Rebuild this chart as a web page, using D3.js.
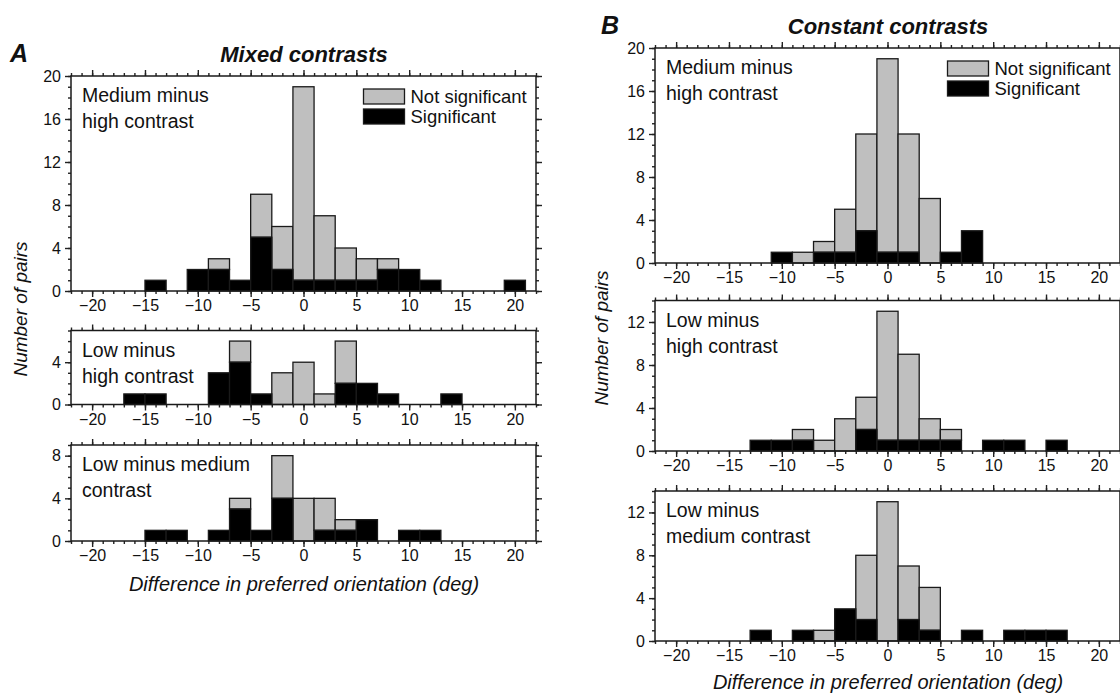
<!DOCTYPE html>
<html lang="en">
<head>
<meta charset="UTF-8">
<style>
  body { margin: 0; background: #fff; }
  svg { display: block; }
  text { font-family: Arial, "Liberation Sans", Helvetica, sans-serif; fill: #111; }
  .domain { display: none; }
  .tick line { stroke: #222; stroke-width: 1.4; }
</style>
<script src="https://d3js.org/d3.v7.min.js"></script>
</head>
<body>
<svg width="1120" height="697"></svg>
<script>
// bin centres (deg), bins are 2 deg wide
var bins = [-20, -18, -16, -14, -12, -10, -8, -6, -4, -2, 0, 2, 4, 6, 8, 10, 12, 14, 16, 18, 20];

// Mixed contrasts
var mixMedHighTotal = [0, 0, 0, 1, 0, 2, 3, 1, 9, 6, 19, 7, 4, 3, 3, 2, 1, 0, 0, 0, 1];
var mixMedHighSig   = [0, 0, 0, 1, 0, 2, 2, 1, 5, 2, 1, 1, 1, 1, 2, 2, 1, 0, 0, 0, 1];
var mixLowHighTotal = [0, 0, 1, 1, 0, 0, 3, 6, 1, 3, 4, 1, 6, 2, 1, 0, 0, 1, 0, 0, 0];
var mixLowHighSig   = [0, 0, 1, 1, 0, 0, 3, 4, 1, 0, 0, 0, 2, 2, 1, 0, 0, 1, 0, 0, 0];
var mixLowMedTotal  = [0, 0, 0, 1, 1, 0, 1, 4, 1, 8, 4, 4, 2, 2, 0, 1, 1, 0, 0, 0, 0];
var mixLowMedSig    = [0, 0, 0, 1, 1, 0, 1, 3, 1, 4, 0, 1, 1, 2, 0, 1, 1, 0, 0, 0, 0];

// Constant contrasts
var conMedHighTotal = [0, 0, 0, 0, 0, 1, 1, 2, 5, 12, 19, 12, 6, 1, 3, 0, 0, 0, 0, 0, 0];
var conMedHighSig   = [0, 0, 0, 0, 0, 1, 0, 1, 1, 3, 1, 1, 0, 1, 3, 0, 0, 0, 0, 0, 0];
var conLowHighTotal = [0, 0, 0, 0, 1, 1, 2, 1, 3, 5, 13, 9, 3, 2, 0, 1, 1, 0, 1, 0, 0];
var conLowHighSig   = [0, 0, 0, 0, 1, 1, 1, 0, 0, 2, 1, 1, 1, 1, 0, 1, 1, 0, 1, 0, 0];
var conLowMedTotal  = [0, 0, 0, 0, 1, 0, 1, 1, 3, 8, 13, 7, 5, 0, 1, 0, 1, 1, 1, 0, 0];
var conLowMedSig    = [0, 0, 0, 0, 1, 0, 1, 0, 3, 2, 0, 2, 1, 0, 1, 0, 1, 1, 1, 0, 0];

var xTicks = [-20, -15, -10, -5, 0, 5, 10, 15, 20];
var legendLabels = ["Not significant", "Significant"];
var xTitle = "Difference in preferred orientation (deg)";
var yTitle = "Number of pairs";

var grey = "#bfbfbf";
var edge = "#1a1a1a";

var svg = d3.select("svg");

var panels = [
  {left: 71, top: 76, bottom: 291, ymax: 20, yticks: [0, 4, 8, 12, 16, 20], total: mixMedHighTotal, sig: mixMedHighSig, lines: ["Medium minus", "high contrast"], legend: true},
  {left: 71, top: 330.5, bottom: 404.5, ymax: 7, yticks: [0, 4], total: mixLowHighTotal, sig: mixLowHighSig, lines: ["Low minus", "high contrast"]},
  {left: 71, top: 445, bottom: 541, ymax: 9, yticks: [0, 4, 8], total: mixLowMedTotal, sig: mixLowMedSig, lines: ["Low minus medium", "contrast"]},
  {left: 655, top: 48, bottom: 263, ymax: 20, yticks: [0, 4, 8, 12, 16, 20], total: conMedHighTotal, sig: conMedHighSig, lines: ["Medium minus", "high contrast"], legend: true},
  {left: 655, top: 300.5, bottom: 451, ymax: 14, yticks: [0, 4, 8, 12], total: conLowHighTotal, sig: conLowHighSig, lines: ["Low minus", "high contrast"]},
  {left: 655, top: 491, bottom: 641, ymax: 14, yticks: [0, 4, 8, 12], total: conLowMedTotal, sig: conLowMedSig, lines: ["Low minus", "medium contrast"]}
];

var plotW = 465;

function styleTicks(sel) {
  sel.selectAll(".tick text")
    .attr("font-size", null)
    .style("font-size", "16px")
    .style("font-family", "Arial, 'Liberation Sans', Helvetica, sans-serif")
    .style("fill", "#111");
}

panels.forEach(function(p) {
  var x = d3.scaleLinear().domain([-22, 22]).range([p.left, p.left + plotW]);
  var y = d3.scaleLinear().domain([0, p.ymax]).range([p.bottom, p.top]);
  var g = svg.append("g");

  var rows = bins.map(function(b, i) { return {c: b, total: p.total[i], sig: p.sig[i]}; });

  // not significant part stacked on top of the significant part
  g.selectAll("rect.ns").data(rows.filter(function(d) { return d.total > d.sig; }))
    .enter().append("rect")
    .attr("x", function(d) { return x(d.c - 1); })
    .attr("width", function(d) { return x(d.c + 1) - x(d.c - 1); })
    .attr("y", function(d) { return y(d.total); })
    .attr("height", function(d) { return y(d.sig) - y(d.total); })
    .attr("fill", grey).attr("stroke", edge).attr("stroke-width", 1.3);

  g.selectAll("rect.s").data(rows.filter(function(d) { return d.sig > 0; }))
    .enter().append("rect")
    .attr("x", function(d) { return x(d.c - 1); })
    .attr("width", function(d) { return x(d.c + 1) - x(d.c - 1); })
    .attr("y", function(d) { return y(d.sig); })
    .attr("height", function(d) { return y(0) - y(d.sig); })
    .attr("fill", "#000").attr("stroke", edge).attr("stroke-width", 1.3);

  var minorX = d3.range(-22, 23);
  var minorY = d3.range(0, p.ymax + 1);

  g.append("g").attr("transform", "translate(0," + p.bottom + ")")
    .call(d3.axisBottom(x).tickValues(minorX).tickSize(3).tickFormat(""));
  g.append("g").attr("transform", "translate(0," + p.bottom + ")")
    .call(d3.axisBottom(x).tickValues(xTicks).tickSize(6).tickPadding(3).tickFormat(d3.format("d")))
    .call(styleTicks);
  g.append("g").attr("transform", "translate(0," + p.top + ")")
    .call(d3.axisTop(x).tickValues(minorX).tickSize(3).tickFormat(""));
  g.append("g").attr("transform", "translate(0," + p.top + ")")
    .call(d3.axisTop(x).tickValues(xTicks).tickSize(6).tickFormat(""));

  g.append("g").attr("transform", "translate(" + p.left + ",0)")
    .call(d3.axisLeft(y).tickValues(minorY).tickSize(3).tickFormat(""));
  g.append("g").attr("transform", "translate(" + p.left + ",0)")
    .call(d3.axisLeft(y).tickValues(p.yticks).tickSize(6).tickPadding(4).tickFormat(d3.format("d")))
    .call(styleTicks);
  g.append("g").attr("transform", "translate(" + (p.left + plotW) + ",0)")
    .call(d3.axisRight(y).tickValues(minorY).tickSize(3).tickFormat(""));
  g.append("g").attr("transform", "translate(" + (p.left + plotW) + ",0)")
    .call(d3.axisRight(y).tickValues(p.yticks).tickSize(6).tickFormat(""));

  g.append("rect")
    .attr("x", p.left).attr("y", p.top)
    .attr("width", plotW).attr("height", p.bottom - p.top)
    .attr("fill", "none").attr("stroke", edge).attr("stroke-width", 1.5);

  g.selectAll("text.lab").data(p.lines).enter().append("text")
    .attr("x", p.left + 11)
    .attr("y", function(d, i) { return p.top + 26 + i * 26; })
    .style("font-size", "19.5px")
    .text(function(d) { return d; });

  if (p.legend) {
    var lg = g.append("g").attr("transform", "translate(" + (x(0) + 60) + "," + (p.top + 13) + ")");
    lg.selectAll("rect").data(legendLabels).enter().append("rect")
      .attr("x", 0).attr("y", function(d, i) { return i * 20; })
      .attr("width", 41).attr("height", 15)
      .attr("fill", function(d, i) { return i === 0 ? grey : "#000"; })
      .attr("stroke", edge).attr("stroke-width", 1.3);
    lg.selectAll("text").data(legendLabels).enter().append("text")
      .attr("x", 47).attr("y", function(d, i) { return 14 + i * 20; })
      .style("font-size", "18.5px")
      .text(function(d) { return d; });
  }
});

// panel letters and titles
svg.append("text").attr("x", 10).attr("y", 62).style("font-size", "25px")
  .style("font-weight", "bold").style("font-style", "italic").text("A");
svg.append("text").attr("x", 304).attr("y", 62).attr("text-anchor", "middle").style("font-size", "22px")
  .style("font-weight", "bold").style("font-style", "italic").text("Mixed contrasts");
svg.append("text").attr("x", 601).attr("y", 34).style("font-size", "25px")
  .style("font-weight", "bold").style("font-style", "italic").text("B");
svg.append("text").attr("x", 888).attr("y", 34).attr("text-anchor", "middle").style("font-size", "22px")
  .style("font-weight", "bold").style("font-style", "italic").text("Constant contrasts");

// axis titles
[[304, 591], [888, 689]].forEach(function(pos) {
  svg.append("text").attr("x", pos[0]).attr("y", pos[1]).attr("text-anchor", "middle")
    .style("font-size", "20px").style("font-style", "italic").text(xTitle);
});
[[27, 309], [608, 338]].forEach(function(pos) {
  svg.append("text").attr("transform", "translate(" + pos[0] + "," + pos[1] + ") rotate(-90)")
    .attr("text-anchor", "middle")
    .style("font-size", "19px").style("font-style", "italic").text(yTitle);
});
</script>
</body>
</html>
